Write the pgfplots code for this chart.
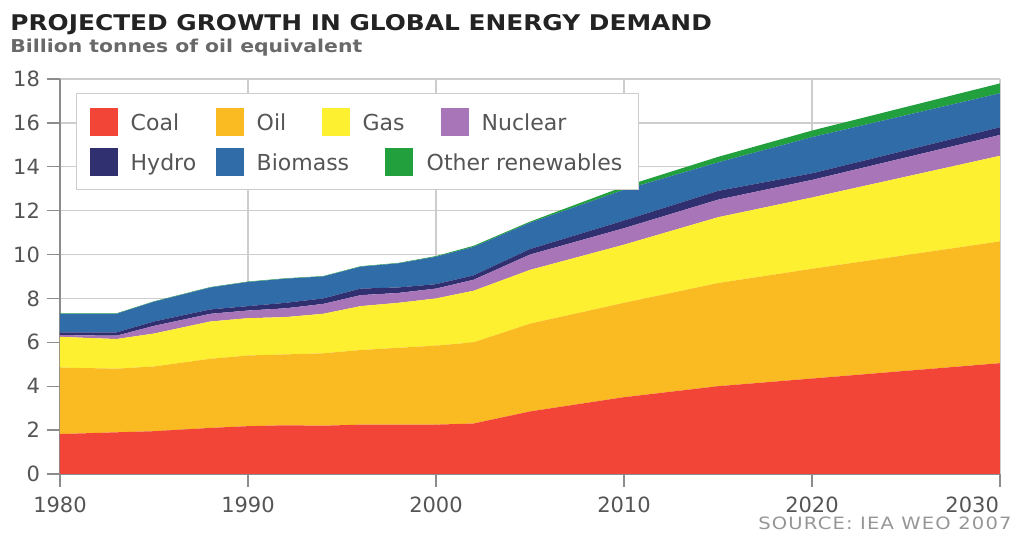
\documentclass[border=0pt]{standalone}
\usepackage{fontspec}
\setmainfont{DejaVu Sans}
\newfontfamily\headfont[FakeStretch=1.15]{DejaVu Sans}
\newfontfamily\srcfont[FakeStretch=1.15,LetterSpace=7]{DejaVu Sans}
\usepackage{pgfplots}
\usepackage{pgfplotstable}
\pgfplotsset{compat=1.18}

\definecolor{coal}{RGB}{243,68,56}
\definecolor{oil}{RGB}{250,186,34}
\definecolor{gas}{RGB}{252,240,48}
\definecolor{nuclear}{RGB}{168,118,184}
\definecolor{hydro}{RGB}{48,48,112}
\definecolor{biomass}{RGB}{48,108,168}
\definecolor{other}{RGB}{34,160,62}
\definecolor{gridgray}{RGB}{205,205,205}
\definecolor{axisgray}{RGB}{140,140,140}
\definecolor{labelgray}{RGB}{85,85,85}
\definecolor{titlegray}{RGB}{35,35,35}
\definecolor{subgray}{RGB}{105,105,105}
\definecolor{srcgray}{RGB}{150,150,150}

\pgfplotsset{
  layers/areafirst/.define layer set={axis background,axis grid,pre main,main,axis ticks,axis lines,axis tick labels,axis descriptions,axis foreground}{},
  % square swatch in a 20pt tall cell, so the rows need no row sep
  sq/.style={legend image code/.code={
      \path[draw=none, fill=none] (0pt,-9pt) rectangle (14pt,11pt);
      \fill[#1, draw=none] (0pt,-6pt) rectangle (14pt,8pt);}},
}

% billion tonnes of oil equivalent, per fuel
\pgfplotstableread{
year coal oil gas nuclear hydro biomass other
1980 1.82 3.03 1.40 0.08 0.12 0.85 0.02
1983 1.90 2.90 1.35 0.15 0.15 0.85 0.02
1985 1.95 2.95 1.50 0.35 0.20 0.90 0.02
1988 2.10 3.15 1.70 0.35 0.20 1.00 0.02
1990 2.18 3.22 1.70 0.35 0.20 1.10 0.02
1992 2.22 3.23 1.70 0.40 0.25 1.10 0.02
1994 2.20 3.30 1.80 0.45 0.25 1.00 0.02
1996 2.25 3.40 2.00 0.50 0.30 1.00 0.02
1998 2.25 3.50 2.05 0.45 0.25 1.10 0.02
2000 2.25 3.60 2.15 0.45 0.20 1.25 0.03
2002 2.30 3.70 2.35 0.50 0.20 1.30 0.05
2005 2.85 4.00 2.45 0.70 0.25 1.20 0.05
2010 3.50 4.30 2.65 0.75 0.35 1.40 0.15
2015 4.00 4.70 3.00 0.80 0.40 1.30 0.25
2020 4.35 5.00 3.25 0.80 0.30 1.65 0.30
2030 5.05 5.55 3.90 0.95 0.35 1.55 0.45
}\energy

\begin{document}
\begin{tikzpicture}
\begin{axis}[
    at={(0pt,0pt)}, anchor=south west,
    scale only axis, width=470pt, height=197.5pt,
    set layers=areafirst,
    xmin=1980, xmax=2030, ymin=0, ymax=18,
    xtick={1980,1990,...,2020},
    extra x ticks={2030},
    extra x tick style={tick label style={anchor=north east, xshift=3pt}},
    ytick={0,2,...,18},
    /pgf/number format/1000 sep={},
    /pgf/number format/assume math mode=true,
    stack plots=y,
    grid=major,
    grid style={draw=gridgray, line width=0.7pt},
    axis x line*=bottom, axis y line*=left,
    axis line style={-, draw=axisgray, line width=1.4pt},
    tick align=outside,
    major tick length=6.5pt,
    tick style={draw=axisgray, line width=0.7pt},
    tick label style={text=labelgray, font=\fontsize{10.5}{12}\selectfont},
    xticklabel style={yshift=-1.5pt},
    legend columns=5,
    legend style={at={(0,1)}, anchor=north west,
      xshift=8pt, yshift=-7pt,
      draw=gridgray, line width=0.7pt, fill=white,
      inner xsep=6.5pt, inner ysep=4pt,
      column sep=6.5pt, row sep=0pt,
      font=\fontsize{11}{13}\selectfont, text=labelgray,
      nodes={inner sep=0pt}, cells={anchor=west}},
  ]
  \addplot[fill=coal, draw=none, forget plot] table[x=year, y=coal] {\energy} \closedcycle;
  \addplot[fill=oil, draw=none, forget plot] table[x=year, y=oil] {\energy} \closedcycle;
  \addplot[fill=gas, draw=none, forget plot] table[x=year, y=gas] {\energy} \closedcycle;
  \addplot[fill=nuclear, draw=none, forget plot] table[x=year, y=nuclear] {\energy} \closedcycle;
  \addplot[fill=hydro, draw=none, forget plot] table[x=year, y=hydro] {\energy} \closedcycle;
  \addplot[fill=biomass, draw=none, forget plot] table[x=year, y=biomass] {\energy} \closedcycle;
  \addplot[fill=other, draw=none, forget plot] table[x=year, y=other] {\energy} \closedcycle;

  % legend in the order of the original, two rows
  \addlegendimage{sq=coal}\addlegendentry{\makebox[36pt][l]{Coal}}
  \addlegendimage{sq=oil}\addlegendentry{\makebox[26pt][l]{Oil}}
  \addlegendimage{sq=gas}\addlegendentry{\makebox[4.5pt][l]{Gas}}
  \addlegendimage{empty legend}\addlegendentry{}
  \addlegendimage{sq=nuclear}\addlegendentry{\makebox[72pt][l]{Nuclear}}
  \addlegendimage{sq=hydro}\addlegendentry{\makebox[36pt][l]{Hydro}}
  \addlegendimage{sq=biomass}\addlegendentry{\makebox[26pt][l]{Biomass}}
  \addlegendimage{empty legend}\addlegendentry{}
  \addlegendimage{sq=other}\addlegendentry{\makebox[0pt][l]{Other renewables}}
  \addlegendimage{empty legend}\addlegendentry{}
\end{axis}

\node[anchor=base west, inner sep=0pt, text=titlegray,
      font=\headfont\bfseries\fontsize{10.8}{13}\selectfont]
  at (-25pt,221.5pt) {PROJECTED GROWTH IN GLOBAL ENERGY DEMAND};
\node[anchor=base west, inner sep=0pt, text=subgray,
      font=\headfont\bfseries\fontsize{8.86}{11}\selectfont]
  at (-25pt,210.5pt) {Billion tonnes of oil equivalent};
\node[anchor=base east, inner sep=0pt, text=srcgray,
      font=\srcfont\fontsize{8.5}{10}\selectfont]
  at (476pt,-28pt) {SOURCE: IEA WEO 2007};

\pgfresetboundingbox
\useasboundingbox (-30pt,-31pt) rectangle (477pt,237pt);
\end{tikzpicture}
\end{document}
